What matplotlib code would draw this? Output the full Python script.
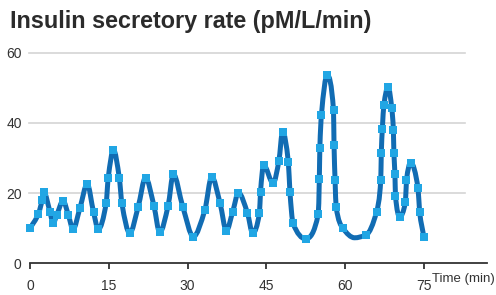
import numpy as np
import matplotlib
matplotlib.use("Agg")
import matplotlib.pyplot as plt
from matplotlib.path import Path
from matplotlib.patches import PathPatch
from matplotlib import font_manager

# ------------------------------------------------------------
# data (time in min, rate in pM/L/min)
# ------------------------------------------------------------
TIME = [0.0, 1.6, 2.3, 2.6, 3.8, 4.4, 5.1, 6.3, 7.3, 8.2, 9.5, 10.9, 12.1, 13.0,
        14.5, 14.9, 15.9, 17.0, 17.5, 19.0, 20.6, 22.0, 23.6, 24.7, 26.3, 27.3,
        29.1, 31.1, 33.3, 34.6, 36.2, 37.4, 38.6, 39.7, 41.4, 42.4, 43.7, 43.9,
        44.5, 46.3, 47.4, 48.1, 49.2, 49.5, 50.1, 52.5, 54.9, 55.1, 55.2, 55.5,
        56.6, 57.8, 57.9, 58.1, 58.3, 59.6, 61.8, 64.0, 66.0, 66.8, 66.9, 67.1,
        67.4, 68.2, 68.9, 69.2, 69.3, 69.5, 69.6, 70.4, 71.5, 71.7, 72.5, 73.9,
        74.2, 75.0]
RATE = [10.0, 14.1, 18.0, 20.4, 14.7, 11.4, 13.8, 17.8, 13.8, 9.7, 15.7, 22.6,
        14.6, 9.7, 17.1, 24.4, 32.3, 24.4, 17.1, 8.6, 16.1, 24.4, 16.4, 8.8, 16.4,
        25.4, 16.1, 7.6, 15.2, 24.7, 17.1, 9.3, 14.7, 20.1, 14.4, 8.6, 14.4, 20.4,
        28.0, 22.8, 29.2, 37.5, 28.8, 20.4, 11.4, 7.0, 14.1, 24.0, 32.8, 42.2,
        53.6, 43.6, 33.7, 23.7, 16.1, 10.0, 7.3, 8.1, 14.7, 23.7, 31.3, 38.2,
        45.1, 50.3, 44.1, 38.0, 31.5, 25.4, 19.3, 13.3, 17.5, 23.7, 28.7, 21.4,
        14.7, 7.6]
NO_MARKER = [56]          # index of the unmarked trough near 62 min

X_TICKS = [0, 15, 30, 45, 60, 75]
Y_TICKS = [0, 20, 40, 60]

TITLE = "Insulin secretory rate (pM/L/min)"
X_LABEL = "Time (min)"

LINE_COLOR = "#116cb3"
MARKER_COLOR = "#21a6e4"
GRID_COLOR = "#d4d4d4"
AXIS_COLOR = "#333333"

plt.rcParams["font.family"] = ["Liberation Sans", "DejaVu Sans"]

names = {f.name for f in font_manager.fontManager.ttflist}
narrow = "Liberation Sans Narrow" if "Liberation Sans Narrow" in names else "Liberation Sans"


def smooth_path(x, y):
    # monotone cubic (PCHIP style) tangents, drawn as bezier segments
    x = np.asarray(x, float)
    y = np.asarray(y, float)
    h = np.diff(x)
    d = np.diff(y) / h
    m = np.zeros_like(y)
    m[0], m[-1] = d[0], d[-1]
    for i in range(1, len(y) - 1):
        if d[i - 1] * d[i] > 0:
            w1 = 2 * h[i] + h[i - 1]
            w2 = h[i] + 2 * h[i - 1]
            m[i] = (w1 + w2) / (w1 / d[i - 1] + w2 / d[i])
    verts = [(x[0], y[0])]
    codes = [Path.MOVETO]
    for i in range(len(x) - 1):
        verts += [(x[i] + h[i] / 3, y[i] + m[i] * h[i] / 3),
                  (x[i + 1] - h[i] / 3, y[i + 1] - m[i + 1] * h[i] / 3),
                  (x[i + 1], y[i + 1])]
        codes += [Path.CURVE4] * 3
    return Path(verts, codes)


fig = plt.figure(figsize=(4.96, 2.95), dpi=100)
ax = fig.add_axes([0.0605, 0.107, 0.921, 0.715])

x_end = 87.0
ax.set_xlim(0, x_end)
ax.set_ylim(0, 60)

# gridlines
for yv in Y_TICKS[1:]:
    ax.axhline(yv, xmin=-0.002, xmax=82.8 / x_end, color=GRID_COLOR, lw=1.2,
               zorder=0, clip_on=False)

ax.add_patch(PathPatch(smooth_path(TIME, RATE), facecolor="none",
                       edgecolor=LINE_COLOR, lw=3.6, capstyle="butt",
                       joinstyle="round", zorder=2))
mark = [i for i in range(len(TIME)) if i not in NO_MARKER]
ax.plot([TIME[i] for i in mark], [RATE[i] for i in mark], ls="none",
        marker="s", ms=5.6, mfc=MARKER_COLOR, mec=MARKER_COLOR, mew=0,
        zorder=3, clip_on=False)

for s in ["top", "right", "left"]:
    ax.spines[s].set_visible(False)
ax.spines["bottom"].set_color(AXIS_COLOR)
ax.spines["bottom"].set_linewidth(1.3)

ax.set_xticks(X_TICKS)
ax.set_yticks(Y_TICKS)
ax.tick_params(axis="x", length=4, width=1.3, color=AXIS_COLOR, pad=7,
               labelsize=10, labelcolor="#333333")
ax.tick_params(axis="y", length=0, pad=6, labelsize=10, labelcolor="#333333")
for lab in ax.get_yticklabels():
    lab.set_verticalalignment("center_baseline")

fig.text(0.998, 0.045, X_LABEL, ha="right", va="baseline", fontsize=9.5,
         family=narrow, color="#333333")

fig.text(0.02, 0.905, TITLE, fontsize=16.8, fontweight="bold", color="#2b2b2b",
         ha="left", va="baseline")

fig.savefig("out.png", dpi=100)
